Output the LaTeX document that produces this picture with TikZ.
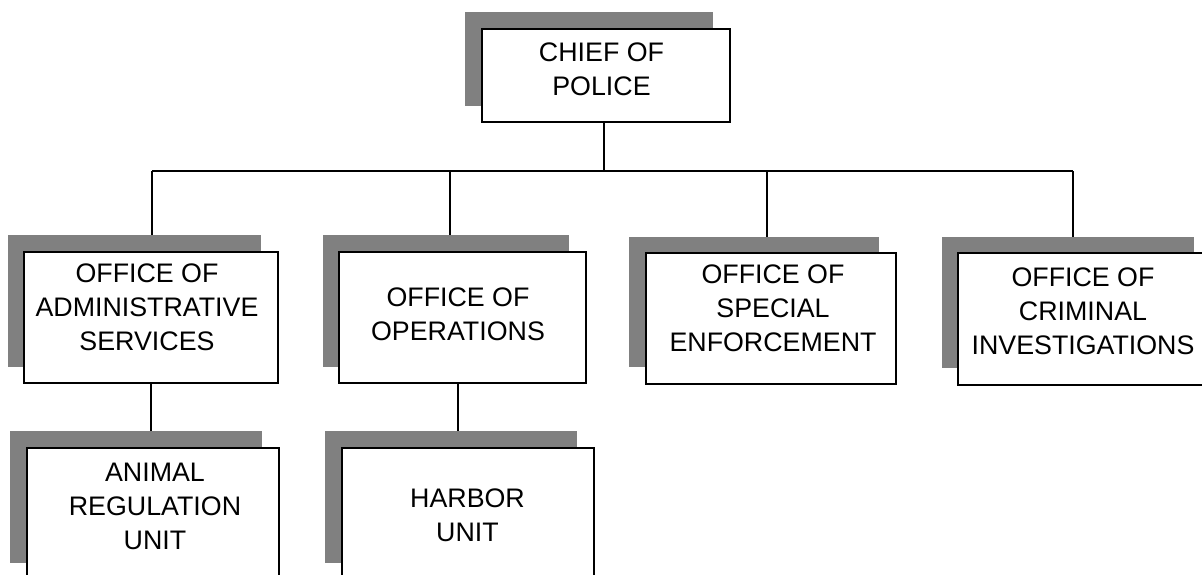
\documentclass[tikz,border=0pt]{standalone}
\usepackage{fontspec}
\setmainfont{Liberation Sans}
\usetikzlibrary{backgrounds}
\begin{document}
\begin{tikzpicture}[x=1pt,y=-1pt,
  shade box/.style={fill=shadowgray,draw=none,inner sep=0pt,anchor=north west},
  org box/.style={fill=white,draw=black,line width=1.5pt,inner sep=0pt,anchor=north west},
  org text/.style={inner sep=0pt,anchor=north,align=center,font=\fontsize{26.8}{34}\selectfont},
  link/.style={draw=black,line width=1.6pt}]
\definecolor{shadowgray}{RGB}{128,128,128}
\useasboundingbox (0,0) rectangle (1202,574);
% shadows
\node[shade box,minimum width=248pt,minimum height=94pt] (chiefsh) at (465,12) {};
\node[shade box,minimum width=253pt,minimum height=132pt] (adminsh) at (8,235) {};
\node[shade box,minimum width=246pt,minimum height=132pt] (opssh) at (323,235) {};
\node[shade box,minimum width=250pt,minimum height=130pt] (specsh) at (629,237) {};
\node[shade box,minimum width=252pt,minimum height=131pt] (crimsh) at (942,237) {};
\node[shade box,minimum width=252pt,minimum height=132pt] (animsh) at (10,431) {};
\node[shade box,minimum width=252pt,minimum height=132pt] (harbsh) at (325,431) {};
% boxes
\node[org box,minimum width=248pt,minimum height=93pt] (chief) at (481,28) {};
\node[org box,minimum width=254pt,minimum height=131pt] (admin) at (23,251) {};
\node[org box,minimum width=247pt,minimum height=131pt] (ops) at (338,251) {};
\node[org box,minimum width=250pt,minimum height=131pt] (spec) at (645,252) {};
\node[org box,minimum width=260pt,minimum height=132pt] (crim) at (957,252) {};
\node[org box,minimum width=252pt,minimum height=160pt] (anim) at (26,447) {};
\node[org box,minimum width=252pt,minimum height=160pt] (harb) at (341,447) {};
% texts
\node[org text] (chieft) at (601.5,43) {CHIEF OF\\POLICE};
\node[org text] (admint) at (147,264) {OFFICE OF\\ADMINISTRATIVE\\SERVICES};
\node[org text] (opst) at (458,288) {OFFICE OF\\OPERATIONS};
\node[org text] (spect) at (773,265) {OFFICE OF\\SPECIAL\\ENFORCEMENT};
\node[org text] (crimt) at (1083,268) {OFFICE OF\\CRIMINAL\\INVESTIGATIONS};
\node[org text] (animt) at (155,463) {ANIMAL\\REGULATION\\UNIT};
\node[org text] (harbt) at (467.5,489) {HARBOR\\UNIT};
% connectors
\coordinate (busL) at (152,171);
\coordinate (busR) at (1073,171);
\coordinate (jO) at (450,171);
\coordinate (jS) at (767,171);
\coordinate (jC) at (1073,171);
\coordinate (jChief) at (604,171);
\coordinate (jHarb) at (458,382);
\begin{scope}[on background layer]
\draw[link] (busL) -- (busR);
\draw[link] (chief.south -| jChief) -- (jChief);
\draw[link] (busL) -- (busL |- admin.north);
\draw[link] (jO) -- (jO |- ops.north);
\draw[link] (jS) -- (jS |- spec.north);
\draw[link] (jC) -- (jC |- crim.north);
\draw[link] (admin.south) -- (admin.south |- anim.north);
\draw[link] (jHarb) -- (jHarb |- harb.north);
\end{scope}
\end{tikzpicture}
\end{document}
